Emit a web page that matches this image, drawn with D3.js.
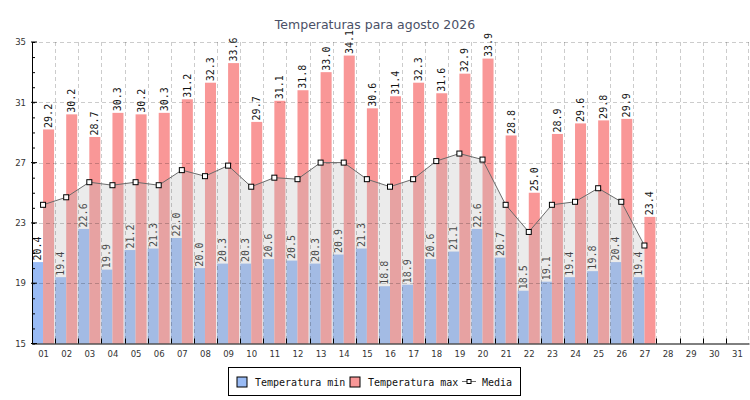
<!DOCTYPE html>
<html>
<head>
<meta charset="utf-8">
<script src="https://cdn.jsdelivr.net/npm/d3@7"></script>
<style>
  body { margin: 0; background: #fff; }
  svg { display: block; }
  .tick-label { font-family: "DejaVu Sans", sans-serif; font-size: 8.5px; fill: #333; }
  .val-label { font-family: "DejaVu Sans Mono", monospace; font-size: 10px; fill: #111; }
  .legend-text { font-family: "DejaVu Sans Mono", monospace; font-size: 10px; fill: #111; }
</style>
</head>
<body>
<svg id="chart"></svg>
<script>
// chart data
const days = d3.range(1, 32).map(d => String(d).padStart(2, '0'));
const tempMin = [20.4, 19.4, 22.6, 19.9, 21.2, 21.3, 22.0, 20.0, 20.3, 20.3, 20.6, 20.5, 20.3, 20.9,
                 21.3, 18.8, 18.9, 20.6, 21.1, 22.6, 20.7, 18.5, 19.1, 19.4, 19.8, 20.4, 19.4];
const tempMax = [29.2, 30.2, 28.7, 30.3, 30.2, 30.3, 31.2, 32.3, 33.6, 29.7, 31.1, 31.8, 33.0, 34.1,
                 30.6, 31.4, 32.3, 31.6, 32.9, 33.9, 28.8, 25.0, 28.9, 29.6, 29.8, 29.9, 23.4];
const media = [24.2, 24.7, 25.7, 25.5, 25.7, 25.5, 26.5, 26.1, 26.8, 25.4, 26.0, 25.9, 27.0, 27.0,
               25.9, 25.4, 25.9, 27.1, 27.6, 27.2, 24.2, 22.4, 24.2, 24.4, 25.3, 24.4, 21.5];
const yTicks = [15, 19, 23, 27, 31, 35];
const series = ['min', 'max'];
const seriesNames = ['Temperatura min', 'Temperatura max', 'Media'];

const width = 750, height = 400;
const margin = {top: 42, right: 1, bottom: 56.5, left: 32};
const innerW = width - margin.left - margin.right;
const innerH = height - margin.top - margin.bottom;

const colors = {min: '#99bbf5', max: '#f99797'};

const svg = d3.select('#chart').attr('width', width).attr('height', height);

svg.append('text')
    .attr('x', width / 2).attr('y', 29)
    .attr('text-anchor', 'middle')
    .style('font-family', '"DejaVu Sans", sans-serif')
    .style('font-size', '12.5px')
    .style('fill', '#4a5066')
    .text('Temperaturas para agosto 2026');

const chart = svg.append('g').attr('transform', `translate(${margin.left},${margin.top})`);

const xScale = d3.scaleBand().domain(days).range([0, innerW]);
const xInner = d3.scaleBand().domain(series).range([0, xScale.bandwidth()])
    .paddingOuter(0.05).paddingInner(0);
const yScale = d3.scaleLinear().domain([15, 35]).range([innerH, 0]);

// rows of data per day
const rows = tempMin.map((v, i) => ({day: days[i], min: v, max: tempMax[i], media: media[i]}));

// bars
const groups = chart.selectAll('.day')
    .data(rows)
    .join('g')
    .attr('class', 'day')
    .attr('transform', d => `translate(${xScale(d.day) - 0.5},0)`);

groups.selectAll('rect')
    .data(d => series.map(k => ({key: k, value: d[k]})))
    .join('rect')
    .attr('x', d => xInner(d.key))
    .attr('width', xInner.bandwidth())
    .attr('y', d => yScale(d.value))
    .attr('height', d => innerH - yScale(d.value))
    .attr('fill', d => colors[d.key]);

// media area + line
const cx = d => xScale(d.day) + xScale.bandwidth() / 2 - 0.5;
const area = d3.area().x(cx).y0(innerH).y1(d => yScale(d.media));
const line = d3.line().x(cx).y(d => yScale(d.media));

chart.append('path')
    .datum(rows)
    .attr('d', area)
    .attr('fill', 'rgb(190,190,190)')
    .attr('fill-opacity', 0.3);

// grid
const grid = chart.append('g').attr('stroke', '#000').attr('stroke-opacity', 0.2)
    .attr('stroke-dasharray', '4,3');
grid.selectAll('.hline')
    .data(yTicks.slice(1))
    .join('line')
    .attr('x1', 0).attr('x2', innerW)
    .attr('y1', d => Math.round(yScale(d)) + 0.5).attr('y2', d => Math.round(yScale(d)) + 0.5);
grid.selectAll('.vline')
    .data(days.slice(1).concat(['end']))
    .join('line')
    .attr('x1', d => d === 'end' ? innerW - 0.5 : Math.round(xScale(d)) + 0.5)
    .attr('x2', d => d === 'end' ? innerW - 0.5 : Math.round(xScale(d)) + 0.5)
    .attr('y1', 0).attr('y2', innerH);

chart.append('path')
    .datum(rows)
    .attr('d', line)
    .attr('fill', 'none')
    .attr('stroke', '#6a6a6a')
    .attr('stroke-width', 1);

chart.selectAll('.pt')
    .data(rows)
    .join('rect')
    .attr('class', 'pt')
    .attr('x', d => cx(d) - 2.5)
    .attr('y', d => yScale(d.media) - 2.5)
    .attr('width', 5).attr('height', 5)
    .attr('fill', '#fff').attr('stroke', '#000').attr('stroke-width', 1);

// value labels
groups.selectAll('text')
    .data(d => series.map(k => ({key: k, value: d[k]})))
    .join('text')
    .attr('class', 'val-label')
    .attr('transform', d => `translate(${xInner(d.key) + xInner.bandwidth() / 2},${yScale(d.value) - 1.5}) rotate(-90)`)
    .attr('dy', '0.35em')
    .text(d => d.value.toFixed(1));

// axes
const yAxisMinor = d3.axisRight(yScale).tickValues(d3.range(15, 36)).tickSize(3).tickFormat('');
chart.append('g').call(yAxisMinor)
    .call(g => g.select('.domain').remove())
    .selectAll('line').attr('stroke', '#000');

const yAxis = d3.axisLeft(yScale).tickValues(yTicks).tickSize(0).tickPadding(6);
const yG = chart.append('g').call(yAxis);
yG.select('.domain').attr('stroke', '#000');
yG.selectAll('text').attr('class', 'tick-label').attr('font-size', null).attr('font-family', null);
chart.append('g').selectAll('line')
    .data(yTicks)
    .join('line')
    .attr('x1', -1).attr('x2', 5)
    .attr('y1', d => yScale(d)).attr('y2', d => yScale(d))
    .attr('stroke', '#000');

const xAxis = d3.axisBottom(xScale).tickSize(0).tickPadding(7);
const xG = chart.append('g').attr('transform', `translate(0,${innerH})`).call(xAxis);
xG.select('.domain').attr('stroke', '#000');
xG.selectAll('text').attr('class', 'tick-label').attr('font-size', null).attr('font-family', null);
xG.selectAll('.bticks')
    .data(days.slice(1))
    .join('line')
    .attr('x1', d => Math.round(xScale(d)) + 0.5).attr('x2', d => Math.round(xScale(d)) + 0.5)
    .attr('y1', 0).attr('y2', -5)
    .attr('stroke', '#000');

// legend
const legend = svg.append('g').attr('transform', 'translate(228.5,367.5)');
legend.append('rect')
    .attr('width', 292).attr('height', 28)
    .attr('fill', '#fff').attr('stroke', '#000');

const lx = [8.5, 121.5];
[colors.min, colors.max].forEach((c, i) => {
    legend.append('rect')
        .attr('x', lx[i]).attr('y', 9.5)
        .attr('width', 10).attr('height', 10)
        .attr('fill', c).attr('stroke', '#000');
    legend.append('text')
        .attr('class', 'legend-text')
        .attr('x', lx[i] + 18).attr('y', 18.5)
        .text(seriesNames[i]);
});
legend.append('line')
    .attr('x1', 233.5).attr('x2', 247.5).attr('y1', 14).attr('y2', 14)
    .attr('stroke', '#6a6a6a');
legend.append('rect')
    .attr('x', 238.5).attr('y', 12).attr('width', 4).attr('height', 4)
    .attr('fill', '#fff').attr('stroke', '#000');
legend.append('text')
    .attr('class', 'legend-text')
    .attr('x', 253.5).attr('y', 18.5)
    .text(seriesNames[2]);
</script>
</body>
</html>
